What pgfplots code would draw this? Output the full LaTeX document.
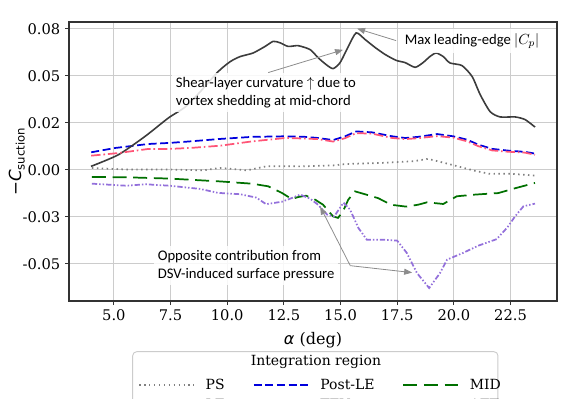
\documentclass[border=0pt]{standalone}
\usepackage{fontspec}
\setmainfont{DejaVu Serif}
\newfontfamily\djsans{DejaVu Sans}
\newfontfamily\carlito{Carlito}
\usepackage{pgfplots}
\pgfplotsset{compat=1.18}
\usetikzlibrary{arrows.meta}

\definecolor{psgray}{HTML}{808080}
\definecolor{leblack}{HTML}{3C3C3C}
\definecolor{postblue}{HTML}{0000DD}
\definecolor{tepink}{HTML}{FF5577}
\definecolor{midgreen}{HTML}{007000}
\definecolor{aftpurple}{HTML}{9370DB}
\definecolor{annogray}{HTML}{8C8C8C}

\begin{document}
\begin{tikzpicture}
% page = 574 x 399 px at 0.75 pt per px, axis box at the origin
\path[use as bounding box] (-51.75pt,-73.5pt) rectangle (378.75pt,225.75pt);
\begin{axis}[
    name=ax, at={(0,0)}, anchor=south west,
    scale only axis, width=366pt, height=209.25pt,
    xmin=3.02, xmax=24.55,
    ymin=-0.0697, ymax=0.0787,
    scaled y ticks=false,
    xtick={5,7.5,10,12.5,15,17.5,20,22.5},
    xticklabels={5.0,7.5,10.0,12.5,15.0,17.5,20.0,22.5},
    ytick={-0.05,-0.025,0,0.025,0.05,0.075},
    yticklabels={-0.05,-0.03,0.00,0.02,0.05,0.08},
    tick pos=left, tick align=outside,
    major tick length=3pt,
    tick style={black!80, line width=0.7pt},
    ticklabel style={font=\rmfamily\fontsize{11}{13}\selectfont},
    axis line style={black!80, line width=0.8pt},
    grid=major,
    grid style={gray!40, line width=0.8pt},
    xlabel={{\djsans\itshape α} (deg)},
    xlabel style={font=\fontsize{12}{14}\selectfont, at={(axis description cs:0.5,-0.14)}, anchor=center},
    ylabel={{\djsans −\itshape C\upshape\textsubscript{suction}}},
    ylabel style={font=\fontsize{12.5}{14}\selectfont, at={(axis description cs:-0.107,0.5)}, anchor=center, rotate=0},
    clip=false,
    legend columns=3,
    legend image code/.code={\draw[#1] (0pt,0.36em) -- (41pt,0.36em);},
    legend style={at={(axis description cs:0.1414,-0.28)}, anchor=north west,
        draw=none, fill=none, inner sep=0pt, row sep=5.8pt,
        font=\fontsize{10.5}{12}\selectfont,
        nodes={inner sep=0pt, anchor=base west},
        /tikz/every odd column/.append style={column sep=8.25pt},
        /tikz/every even column/.append style={column sep=20.8pt}},
    legend cell align=left,
]

% legend frame and title
\draw[rounded corners=3pt, draw=black!20, fill=white, line width=0.7pt]
    (axis description cs:0.1305,-0.1817) rectangle (axis description cs:0.879,-0.50);
\node[font=\fontsize{10.5}{12}\selectfont] at (axis description cs:0.506,-0.2186) {Integration region};

% PS
\addplot[psgray, line width=1.3pt, dash pattern=on 1.1pt off 2.6pt] coordinates {
    (4.03,0.0011) (5.57,0.0002) (7.48,0.0002) (8.94,-0.0002) (9.69,0.0011)
    (10.87,-0.0002) (11.75,0.0020) (13.22,0.0019) (14.67,0.0024) (15.28,0.0032)
    (16.75,0.0037) (18.20,0.0046) (18.86,0.0059) (19.70,0.0034) (21.01,-0.0007)
    (21.60,-0.0021) (22.48,-0.0020) (23.58,-0.0030)
};
\addlegendentry{PS}

% Post-LE
\addplot[postblue, line width=1.3pt, dash pattern=on 6pt off 2.7pt] coordinates {
    (4.00,0.0094) (5.06,0.0117) (6.51,0.0138) (7.48,0.0144) (8.37,0.0152)
    (9.69,0.0165) (11.10,0.0176) (12.56,0.0179) (13.44,0.0176) (14.01,0.0170)
    (14.67,0.0159) (15.20,0.0179) (15.69,0.0205) (16.39,0.0200) (17.28,0.0179)
    (17.85,0.0170) (18.42,0.0176) (19.26,0.0191) (19.97,0.0179) (20.59,0.0161)
    (21.07,0.0135) (21.69,0.0112) (22.39,0.0103) (23.14,0.0096) (23.58,0.0087)
};
\addlegendentry{Post-LE}

% MID
\addplot[midgreen, line width=1.3pt, dash pattern=on 10.5pt off 5pt] coordinates {
    (4.03,-0.0037) (5.57,-0.0039) (7.48,-0.0046) (9.69,-0.0061) (11.09,-0.0073)
    (11.81,-0.0087) (12.41,-0.0122) (12.85,-0.0155) (13.13,-0.0144) (13.48,-0.0137)
    (13.88,-0.0158) (14.23,-0.0185) (14.67,-0.0247) (14.89,-0.0255) (15.11,-0.0220)
    (15.34,-0.0158) (15.64,-0.0114) (16.13,-0.0131) (16.66,-0.0150) (17.23,-0.0185)
    (17.89,-0.0195) (18.42,-0.0185) (18.82,-0.0172) (19.53,-0.0181) (20.13,-0.0140)
    (20.94,-0.0131) (21.96,-0.0123) (22.71,-0.0097) (23.58,-0.0069)
};
\addlegendentry{MID}

% LE
\addplot[leblack, line width=1.2pt, smooth, tension=0.4] coordinates {
    (3.99,0.0019) (5.20,0.0081) (6.38,0.0179) (7.41,0.0277) (8.15,0.0335)
    (8.81,0.0416) (9.60,0.0523) (10.13,0.0576) (10.57,0.0603) (11.14,0.0622)
    (11.67,0.0657) (12.03,0.0684) (12.34,0.0676) (12.69,0.0657) (13.13,0.0661)
    (13.66,0.0640) (14.01,0.0597) (14.37,0.0560) (14.67,0.0539) (14.98,0.0571)
    (15.34,0.0656) (15.69,0.0729) (16.09,0.0693) (16.53,0.0651) (16.97,0.0614)
    (17.45,0.0583) (17.85,0.0571) (18.29,0.0546) (18.64,0.0571) (18.95,0.0604)
    (19.22,0.0622) (19.53,0.0603) (19.83,0.0569) (20.36,0.0555) (20.81,0.0496)
    (21.16,0.0401) (21.60,0.0310) (22.04,0.0282) (22.70,0.0282) (23.14,0.0268)
    (23.58,0.0228)
};
\addlegendentry{LE}

% TEV
\addplot[tepink, line width=1.3pt, dash pattern=on 7pt off 2.2pt on 1.2pt off 2.2pt] coordinates {
    (4.00,0.0076) (5.20,0.0090) (6.53,0.0112) (7.48,0.0112) (8.37,0.0117)
    (9.69,0.0129) (11.10,0.0152) (12.56,0.0170) (13.44,0.0167) (14.01,0.0164)
    (14.67,0.0151) (15.20,0.0169) (15.69,0.0196) (16.39,0.0193) (17.28,0.0170)
    (17.85,0.0164) (18.42,0.0169) (19.26,0.0180) (19.97,0.0172) (20.59,0.0152)
    (21.07,0.0127) (21.69,0.0104) (22.39,0.0097) (23.14,0.0092) (23.58,0.0081)
};
\addlegendentry{TEV}

% AFT
\addplot[aftpurple, line width=1.3pt, dash pattern=on 4pt off 1.5pt on 1.1pt off 1.5pt on 1.1pt off 1.5pt] coordinates {
    (4.03,-0.0073) (5.57,-0.0084) (6.38,-0.0076) (7.48,-0.0084) (8.81,-0.0101)
    (9.60,-0.0122) (10.57,-0.0129) (11.28,-0.0147) (11.72,-0.0182) (12.41,-0.0169)
    (12.86,-0.0149) (13.22,-0.0131) (13.66,-0.0153) (14.01,-0.0185) (14.41,-0.0238)
    (14.72,-0.0247) (15.13,-0.0174) (15.42,-0.0211) (15.79,-0.0309) (16.16,-0.0371)
    (16.88,-0.0371) (17.50,-0.0376) (17.92,-0.0441) (18.37,-0.0548) (18.91,-0.0628)
    (19.39,-0.0548) (19.70,-0.0477) (20.41,-0.0441) (21.07,-0.0403) (21.89,-0.0368)
    (22.35,-0.0307) (22.70,-0.0247) (23.07,-0.0193) (23.58,-0.0179)
};
\addlegendentry{AFT}

% annotations
\tikzset{anno/.style={fill=white, fill opacity=0.85, text opacity=1, inner sep=3pt,
    align=left, anchor=west, font=\carlito\fontsize{11}{13.5}\selectfont},
    annoarrow/.style={annogray, line width=0.6pt, -{Triangle[length=6pt, width=4.5pt]}}}
\node[anno] at (axis cs:7.55,0.0411) {Shear-layer curvature $\uparrow$ due to\\vortex shedding at mid-chord};
\node[anno] at (axis cs:17.65,0.0686) {Max leading-edge $|C_p|$};
\node[anno] at (axis cs:6.75,-0.0509) {Opposite contribution from\\DSV-induced surface pressure};
\draw[annoarrow] (axis cs:11.81,0.0518) -- (axis cs:15.11,0.0639);
\draw[annoarrow] (axis cs:17.45,0.0688) -- (axis cs:15.73,0.0752);
\draw[annoarrow] (axis cs:15.43,-0.0509) -- (axis cs:14.10,-0.0195);
\draw[annoarrow] (axis cs:15.43,-0.0509) -- (axis cs:18.16,-0.0546);
\end{axis}
\end{tikzpicture}
\end{document}
